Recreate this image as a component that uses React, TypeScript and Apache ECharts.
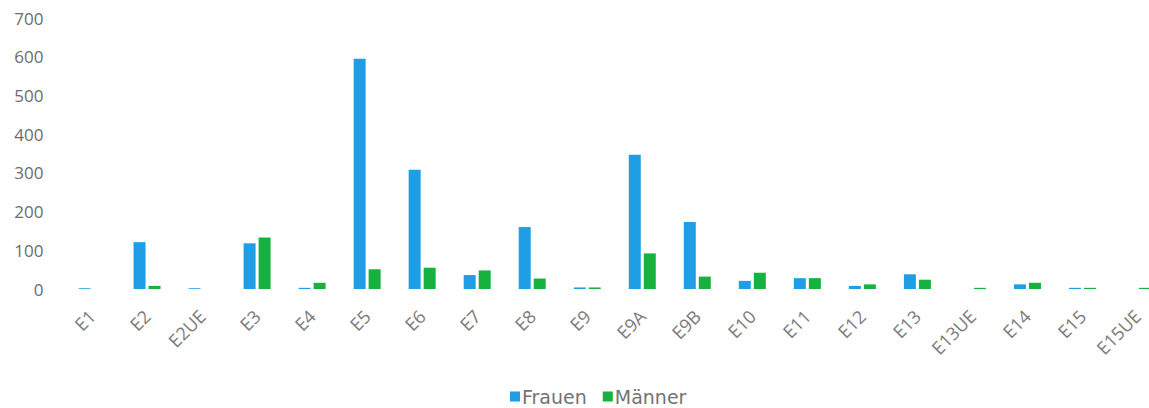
import React, { useEffect, useRef } from "react";
import * as echarts from "echarts";

const categories = ["E1", "E2", "E2UE", "E3", "E4", "E5", "E6", "E7", "E8", "E9", "E9A", "E9B", "E10", "E11", "E12", "E13", "E13UE", "E14", "E15", "E15UE"];
const frauen = [2, 121, 2, 118, 3, 595, 308, 36, 160, 4, 347, 173, 21, 28, 8, 38, 0, 12, 3, 0];
const maenner = [0, 8, 0, 133, 16, 51, 55, 48, 27, 4, 92, 32, 42, 28, 12, 24, 3, 16, 3, 3];
const yTicks = { min: 0, max: 700, interval: 100 };

const FONT = "'Open Sans', 'Noto Sans', sans-serif";

export default function App() {
  const ref = useRef<HTMLDivElement>(null);
  useEffect(() => {
    if (!ref.current) return;
    const chart = echarts.init(ref.current, undefined, { renderer: "svg" });
    chart.setOption({
      animation: false,
      backgroundColor: "#ffffff",
      color: ["#1f9ee6", "#16b13e"],
      grid: { left: 64.5, right: 0, top: 18, bottom: 119, containLabel: false },
      legend: {
        left: 505,
        top: 382,
        itemWidth: 10,
        itemHeight: 10,
        itemGap: 16,
        icon: "rect",
        textStyle: { fontFamily: "'DejaVu Sans', sans-serif", fontSize: 19, color: "#737373", padding: [0, 0, 0, -3] },
        data: ["Frauen", "Männer"],
      },
      xAxis: {
        type: "category",
        data: categories,
        axisLine: { show: false },
        axisTick: { show: false },
        axisLabel: {
          rotate: 45,
          margin: 24,
          interval: 0,
          fontFamily: FONT,
          fontSize: 18,
          color: "#7a7a7a",
        },
      },
      yAxis: {
        type: "value",
        min: yTicks.min,
        max: yTicks.max,
        interval: yTicks.interval,
        axisLine: { show: false },
        axisTick: { show: false },
        splitLine: { show: false },
        axisLabel: { margin: 21, fontFamily: FONT, fontSize: 17, color: "#6b6b6b" },
      },
      series: [
        { name: "Frauen", type: "bar", data: frauen, barWidth: 12, barGap: "25%" },
        { name: "Männer", type: "bar", data: maenner, barWidth: 12, barGap: "25%" },
      ],
    });
    return () => chart.dispose();
  }, []);
  return (
    <div style={{ position: "fixed", left: 0, top: 0, width: 1149, height: 408, overflow: "hidden", background: "#fff" }}>
      <div ref={ref} style={{ width: 1165, height: 408 }} />
    </div>
  );
}
